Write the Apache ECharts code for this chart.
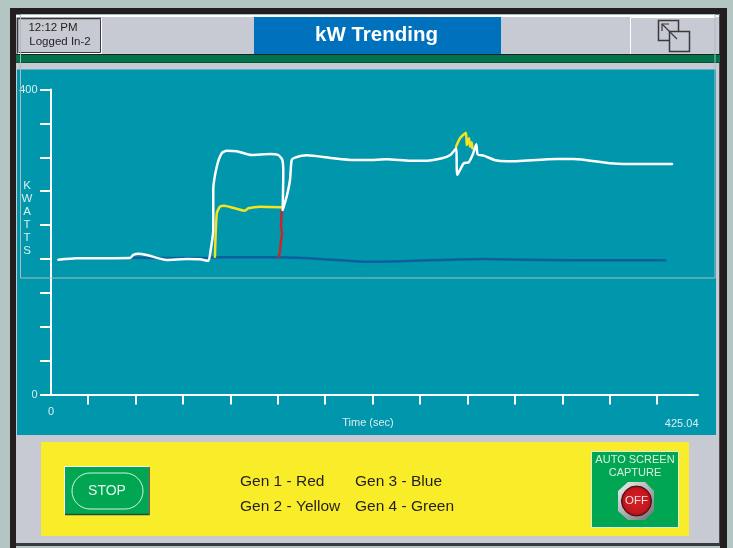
<!DOCTYPE html>
<html>
<head>
<meta charset="utf-8">
<title>kW Trending</title>
<style>
html, body { margin: 0; padding: 0; background: #b4c6c3; }
#chart { width: 733px; height: 548px; }
</style>
<script src="https://cdn.jsdelivr.net/npm/echarts@6/dist/echarts.min.js"></script>
</head>
<body>
<div id="chart"></div>
<script>
// values: [seconds, kW]
var gen1Red = [[151.6,241.1],[151.1,220.1],[151.8,211.8],[150.9,198.7],[150.4,185.6],[149.3,180.7]];
var gen2Yellow = [[107.7,180.7],[108.9,237.6],[111.0,246.3],[113.7,247.6],[127.4,241.1],[129.6,244.2],[137.3,246.3],[151.6,245.5],
  ['-','-'],
  [266.1,325.0],[268.7,336.0],[272.6,343.3],[273.1,327.2],[274.6,336.0],[275.3,325.0],[276.4,330.8],[276.8,322.9]];
var gen3Blue = [[53.0,179.4],[102.3,179.0],[106.4,179.9],[148.3,179.9],[174.5,178.1],[207.4,174.2],[233.9,175.1],[284.3,177.7],[339.0,176.0],[403.6,176.0]];
var totalWhite = [[4.8,176.8],[16.9,178.6],[51.9,179.0],[54.1,183.0],[57.4,184.7],[62.9,183.0],[76.0,176.4],[89.1,177.7],[97.9,177.3],[103.3,175.1],
  [104.9,189.5],[106.6,215.7],[106.6,268.2],[108.9,298.8],[112.1,316.3],[115.4,319.7],[122.0,319.0],[131.8,314.1],[143.9,315.4],[149.3,314.1],
  [152.0,307.5],[152.6,290.5],[152.2,242.0],[154.8,259.4],[157.0,281.3],[158.1,307.5],[160.3,310.6],[168.0,313.7],[185.3,309.8],[198.4,307.5],
  [207.6,307.5],[220.7,308.5],[236.0,306.6],[247.0,306.6],[256.9,309.8],[262.3,314.1],[265.2,320.7],[266.3,322.9],[266.9,287.9],[271.1,303.2],
  [274.4,304.5],[277.2,315.4],[279.4,328.1],[280.3,315.0],[284.3,313.2],[291.9,307.2],[299.6,305.8],[332.4,308.9],[343.4,308.9],[371.8,302.7],[408.0,302.3]];

var xTicks = [24.3,55.8,86.7,118,149.1,180,211.5,242.4,273.9,304.8,336.4,367.2,398.1];
var yTicks = [0,44.44,88.89,133.33,177.78,222.22,266.67,311.11,355.56,400];
var xLabels = [0];
var yLabels = [0,400];
var xMax = 425.04;

var font = '"Liberation Sans", Arial, sans-serif';
var grey = '#c7cad2', dark = '#231f20', teal = '#0097ad', btnGreen = '#00a651';

function box(x, y, w, h, fill, stroke, lw, z) {
  return { type: 'rect', z: z || 0, shape: { x: x, y: y, width: w, height: h }, style: { fill: fill, stroke: stroke || null, lineWidth: lw || 0 } };
}
function path(points, color, lw, z) {
  return { type: 'polyline', z: z || 1, shape: { points: points }, style: { stroke: color, lineWidth: lw, fill: null } };
}
function label(x, y, text, size, color, align, weight) {
  return { type: 'text', z: 3, x: x, y: y, style: { text: text, font: (weight || 'normal') + ' ' + size + 'px ' + font, fill: color, align: align || 'center', verticalAlign: 'middle', lineHeight: 13 } };
}

var chrome = [
  box(10, 8, 717, 540, dark),
  box(16, 14, 704, 1, '#77787b'),
  box(16, 15, 704, 2, '#ffffff'),
  box(16, 17, 703, 526, grey),
  box(719, 15, 1, 528, '#4d4d4f'),
  box(16, 543, 704, 3, '#3a3a3c'),
  box(16, 546, 704, 2, '#b4c6c3'),
  box(16, 54, 704, 1, dark),
  box(16, 55, 704, 8, '#00734a'),
  box(16, 62, 704, 1, '#0b5136'),
  box(17, 69.5, 699, 365.5, teal),
  // header
  path([[17.5, 53.5], [17.5, 18.5], [101, 18.5]], '#3a3a3c', 1.5),
  path([[18, 53.5], [101.5, 53.5], [101.5, 18]], '#ffffff', 1),
  path([[19, 52.5], [100.5, 52.5], [100.5, 19.5]], '#3a3a3c', 1),
  label(53, 28, '12:12 PM', 11.5, dark),
  label(60, 42, 'Logged In-2', 11.5, dark),
  box(254, 17, 247, 37, '#0071bc'),
  label(376.5, 35.5, 'kW Trending', 20.5, '#ffffff', 'center', 'bold'),
  path([[630.5, 54], [630.5, 17.5], [716, 17.5]], '#ffffff', 1),
  box(658.5, 20.5, 20, 20, 'transparent', '#3a3a3c', 1.5, 1),
  box(669.5, 31.5, 20, 20, grey, '#3a3a3c', 1.5, 1),
  path([[662, 24], [677, 39]], '#3a3a3c', 1.2, 2),
  path([[662, 31], [662, 24], [669, 24]], '#3a3a3c', 1.2, 2),
  // plot text
  label(27, 218, 'K\nW\nA\nT\nT\nS', 11.5, '#d8eef2'),
  label(698.5, 423.5, '425.04', 11, '#d8eef2', 'right'),
  // yellow panel
  box(41, 442, 648, 94, '#f9ec28'),
  box(64.5, 466.5, 84, 48, btnGreen, '#ffffff', 1),
  path([[65, 514.5], [149, 514.5], [149, 467]], '#1f4f3a', 1.5),
  { type: 'rect', z: 2, shape: { x: 72, y: 473, width: 71, height: 36, r: 18 }, style: { fill: 'transparent', stroke: '#d8f0e0', lineWidth: 1 } },
  label(107, 491, 'STOP', 14, '#e4f5ea'),
  label(240, 481.5, 'Gen 1 - Red', 15.5, dark, 'left'),
  label(240, 506.5, 'Gen 2 - Yellow', 15.5, dark, 'left'),
  label(355, 481.5, 'Gen 3 - Blue', 15.5, dark, 'left'),
  label(355, 506.5, 'Gen 4 - Green', 15.5, dark, 'left'),
  // screen capture
  box(591.5, 451.5, 87, 76, btnGreen, '#d8f0e0', 1),
  label(635, 459.5, 'AUTO SCREEN', 11, '#d8f0e0'),
  label(635, 472.5, 'CAPTURE', 11, '#d8f0e0'),
  { type: 'polygon', z: 2, shape: { points: [[628, 482], [645, 482], [654, 491], [654, 511], [645, 520], [628, 520], [618, 511], [618, 491]] },
    style: { fill: { type: 'linear', x: 0, y: 0, x2: 1, y2: 1, colorStops: [{ offset: 0, color: '#f1f2f2' }, { offset: 1, color: '#6d6e71' }] } } },
  { type: 'circle', z: 2, shape: { cx: 636.5, cy: 501, r: 15 },
    style: { fill: { type: 'radial', x: 0.5, y: 0.5, r: 0.5, colorStops: [{ offset: 0, color: '#d2232a' }, { offset: 0.8, color: '#c4161c' }, { offset: 1, color: '#7a0f14' }] }, stroke: '#3d0a0c', lineWidth: 1 } },
  label(636.5, 501, 'OFF', 11.5, '#f6dede'),
  // thin outline laid over the screen
  { type: 'rect', z: 50, shape: { x: 20.5, y: 14.5, width: 694.5, height: 263.5 }, style: { fill: 'transparent', stroke: '#a9bcc2', lineWidth: 1 } }
];

function lineSeries(name, data, color, width) {
  return { name: name, type: 'line', data: data, showSymbol: false, symbol: 'none', connectNulls: false, animation: false, smooth: 0.2,
    lineStyle: { color: color, width: width, join: 'round', cap: 'round' } };
}

var myChart = echarts.init(document.getElementById('chart'), null, { renderer: 'canvas' });
var option = {
  backgroundColor: '#b4c6c3',
  animation: false,
  graphic: { elements: chrome },
  grid: { left: 51, right: 35, top: 89.5, bottom: 153.5, containLabel: false },
  xAxis: {
    type: 'value', min: 0, max: xMax,
    name: 'Time (sec)', nameLocation: 'middle', nameGap: 23, nameMoveOverlap: false,
    nameTextStyle: { color: '#d8eef2', fontSize: 11, fontFamily: font, padding: [0, 13, 0, 0] },
    splitLine: { show: false },
    axisLine: { show: true, onZero: false, lineStyle: { color: '#ffffff', width: 2 } },
    axisTick: { show: true, customValues: xTicks, length: 10, inside: false, lineStyle: { color: '#ffffff', width: 2 } },
    axisLabel: { show: true, customValues: xLabels, margin: 12, color: '#d8eef2', fontSize: 11, fontFamily: font }
  },
  yAxis: {
    type: 'value', min: 0, max: 400,
    splitLine: { show: false },
    axisLine: { show: true, onZero: false, lineStyle: { color: '#ffffff', width: 2 } },
    axisTick: { show: true, customValues: yTicks, length: 11, lineStyle: { color: '#ffffff', width: 2 } },
    axisLabel: { show: true, customValues: yLabels, margin: 13.5, color: '#d8eef2', fontSize: 11, fontFamily: font }
  },
  series: [
    lineSeries('Gen 3', gen3Blue, '#0f5f9e', 2.5),
    lineSeries('Gen 2', gen2Yellow, '#f4e31e', 2.5),
    lineSeries('Gen 1', gen1Red, '#c9252b', 2.5),
    lineSeries('Total', totalWhite, '#ffffff', 2.5)
  ]
};
myChart.setOption(option);
</script>
</body>
</html>
